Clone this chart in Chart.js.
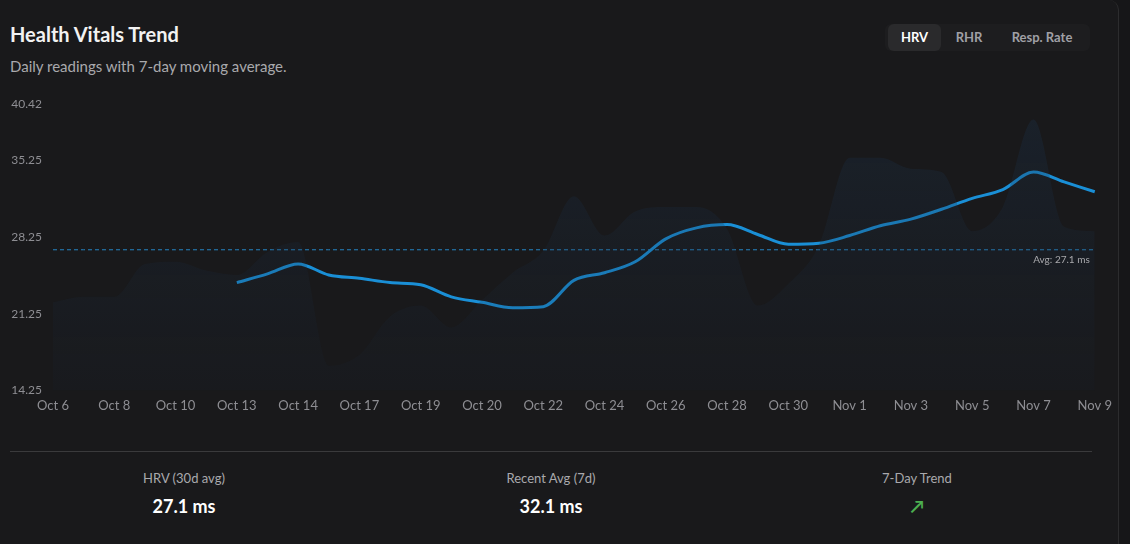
<!DOCTYPE html>
<html>
<head>
<meta charset="utf-8">
<script src="https://cdn.jsdelivr.net/npm/chart.js@4.4.1/dist/chart.umd.min.js"></script>
<style>
  html, body { margin: 0; padding: 0; background: #161618; }
  body { width: 1130px; height: 544px; overflow: hidden; font-family: 'Lato', 'Open Sans', sans-serif; }
  .card { position: absolute; left: 0; top: 0; width: 1118px; height: 544px; background: #19191b; border-right: 1px solid #2c2c2e; border-radius: 0 10px 0 0; }
  h1 { position: absolute; left: 10px; top: 22px; margin: 0; font-size: 20px; font-weight: 700; color: #f2f2f2; }
  .sub { position: absolute; left: 10px; top: 57px; font-size: 15px; color: #a9a9ad; }
  .tabs { position: absolute; left: 885px; top: 24px; width: 205px; height: 27px; background: #1d1d1f; border-radius: 6px; }
  .tab { position: absolute; top: 0; height: 27px; line-height: 27px; font-size: 13px; font-weight: 700; color: #a0a0a6; text-align: center; }
  .tab.on { background: #2a2a2c; color: #fff; border-radius: 6px; }
  .wrap { position: absolute; left: 0; top: 92px; width: 1112px; height: 322px; }
  .sep { position: absolute; left: 10px; top: 451px; width: 1082px; height: 1px; background: #3a3a3c; }
  .stat { position: absolute; top: 470px; width: 300px; text-align: center; }
  .stat .l { font-size: 13px; color: #a9a9ad; }
  .stat .v { margin-top: 9px; font-size: 18px; font-weight: 700; color: #fff; }
</style>
</head>
<body>
<div class="card">
  <h1>Health Vitals Trend</h1>
  <div class="sub">Daily readings with 7-day moving average.</div>
  <div class="tabs">
    <div class="tab on" style="left:3px;width:53px;">HRV</div>
    <div class="tab" style="left:60px;width:48px;">RHR</div>
    <div class="tab" style="left:112px;width:90px;">Resp. Rate</div>
  </div>
  <div class="wrap"><canvas id="vitalsChart"></canvas></div>
  <div class="sep"></div>
  <div class="stat" style="left:34px;"><div class="l">HRV (30d avg)</div><div class="v">27.1 ms</div></div>
  <div class="stat" style="left:401px;"><div class="l">Recent Avg (7d)</div><div class="v">32.1 ms</div></div>
  <div class="stat" style="left:767px;"><div class="l">7-Day Trend</div><div class="v" style="color:#4caf50;">↗</div></div>
</div>
<script>
// ─── Data ───
const dates = ['Oct 6', 'Oct 7', 'Oct 8', 'Oct 9', 'Oct 10', 'Oct 11', 'Oct 13', 'Oct 13', 'Oct 14', 'Oct 15',
    'Oct 17', 'Oct 18', 'Oct 19', 'Oct 19', 'Oct 20', 'Oct 21', 'Oct 22', 'Oct 23', 'Oct 24', 'Oct 25',
    'Oct 26', 'Oct 27', 'Oct 28', 'Oct 29', 'Oct 30', 'Oct 31', 'Nov 1', 'Nov 2', 'Nov 3', 'Nov 4',
    'Nov 5', 'Nov 6', 'Nov 7', 'Nov 8', 'Nov 9'];
const dailyHrv = [22.3, 22.8, 22.8, 25.8, 26.0, 25.2, 24.8, 26.9, 27.8, 16.5,
    17.5, 21.0, 22.0, 20.0, 22.5, 25.0, 27.0, 32.0, 28.4, 30.6,
    31.0, 31.0, 29.0, 22.0, 24.0, 27.5, 35.5, 35.5, 34.5, 34.2,
    28.8, 31.0, 39.0, 29.2, 28.8];
const movingAvg = [null, null, null, null, null, null, 24.1, 24.9, 25.8, 24.8,
    24.5, 24.1, 23.9, 22.8, 22.3, 21.8, 21.9, 24.3, 25.0, 26.0,
    28.1, 29.1, 29.4, 28.5, 27.6, 27.7, 28.4, 29.3, 29.9, 30.8,
    31.8, 32.6, 34.2, 33.3, 32.4];
const avgValue = 27.1;
const yTicks = [14.25, 21.25, 28.25, 35.25, 40.42];

const ctx = document.getElementById('vitalsChart');
const avgLine = dates.map(() => avgValue);

const avgLabel = {
    id: 'avgLabel',
    afterDatasetsDraw(chart) {
        const { ctx, chartArea, scales } = chart;
        const y = scales.y.getPixelForValue(avgValue);
        ctx.save();
        ctx.font = "10px 'Lato', sans-serif";
        ctx.fillStyle = '#a9a9ad';
        ctx.textAlign = 'right';
        ctx.textBaseline = 'top';
        ctx.fillText('Avg: ' + avgValue + ' ms', chartArea.right - 5, y + 5);
        ctx.restore();
    }
};

new Chart(ctx, {
    type: 'line',
    data: {
        labels: dates,
        datasets: [{
            label: 'Daily',
            data: dailyHrv,
            borderWidth: 0,
            pointRadius: 0,
            fill: 'start',
            cubicInterpolationMode: 'monotone',
            backgroundColor: (c) => {
                const area = c.chart.chartArea;
                if (!area) return 'rgba(30,50,70,0.2)';
                const g = c.chart.ctx.createLinearGradient(0, area.top, 0, area.bottom);
                g.addColorStop(0, 'rgba(28,52,78,0.32)');
                g.addColorStop(1, 'rgba(28,40,56,0.12)');
                return g;
            }
        }, {
            label: '7-day avg',
            data: movingAvg,
            borderColor: '#1a8fd6',
            borderWidth: 3,
            pointRadius: 0,
            tension: 0.4,
            cubicInterpolationMode: 'monotone',
            fill: false
        }, {
            label: 'Average',
            data: avgLine,
            borderColor: '#2585c4',
            borderWidth: 1,
            borderDash: [4, 3],
            pointRadius: 0,
            fill: false
        }]
    },
    options: {
        responsive: true,
        maintainAspectRatio: false,
        animation: false,
        layout: { padding: { right: 0, top: 12 } },
        plugins: { legend: { display: false }, tooltip: { enabled: false } },
        scales: {
            x: {
                grid: { display: false },
                border: { display: false },
                ticks: {
                    autoSkip: false,
                    maxRotation: 0,
                    padding: 0,
                    color: '#8e8e93',
                    font: { family: "'Lato', sans-serif", size: 13 },
                    callback: function (value, index) {
                        return index % 2 === 0 ? dates[index] : '';
                    }
                }
            },
            y: {
                min: yTicks[0],
                max: yTicks[yTicks.length - 1],
                grid: { display: false },
                border: { display: false },
                afterBuildTicks: (axis) => { axis.ticks = yTicks.map(v => ({ value: v })); },
                afterFit: (axis) => { axis.width = 53; },
                ticks: {
                    color: '#8e8e93',
                    font: { family: "'Lato', sans-serif", size: 12 },
                    callback: (v) => v.toFixed(2)
                }
            }
        }
    },
    plugins: [avgLabel]
});
</script>
</body>
</html>
